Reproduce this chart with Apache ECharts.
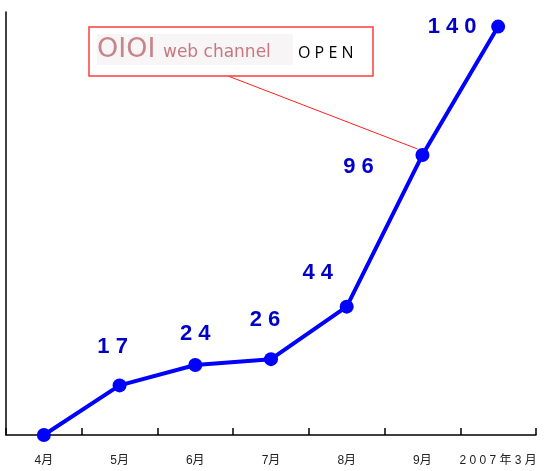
<!DOCTYPE html>
<html>
<head>
<meta charset="utf-8">
<script src="https://cdn.jsdelivr.net/npm/echarts@6/dist/echarts.min.js"></script>
<style>
  html, body { margin: 0; padding: 0; background: #fff; }
  #chart { width: 547px; height: 471px; }
</style>
</head>
<body>
<div id="chart"></div>
<script>
// 月
var months = ['4月', '5月', '6月', '7月', '8月', '9月', '2007年3月'];
// 値
var values = [0, 17, 24, 26, 44, 96, 140];
// ラベル位置のずれ（点からの相対）
var labelShift = [null, [-7, -38], [0, -31], [-6, -39], [-29, -34], [-64, 12], [-46, 0]];

var spaced = function (s) { return String(s).split('').join(' '); };

var chart = echarts.init(document.getElementById('chart'));

var points = [];
for (var i = 0; i < values.length; i++) {
    var p = { value: values[i] };
    if (labelShift[i]) {
        p.label = { show: true, position: 'inside', offset: labelShift[i] };
    }
    points.push(p);
}

var option = {
    animation: false,
    grid: { left: 6, right: 11, top: 12, bottom: 36 },
    xAxis: {
        type: 'category',
        data: months,
        boundaryGap: true,
        axisLine: { lineStyle: { color: '#000', width: 1.5 } },
        axisTick: { show: true, interval: 0, inside: true, length: 7, lineStyle: { color: '#000', width: 1.5 } },
        axisLabel: {
            interval: 0,
            margin: 20,
            color: '#222',
            fontSize: 12,
            fontFamily: "'Liberation Sans', 'Noto Sans CJK SC'",
            formatter: function (v) { return v.length > 3 ? spaced(v) : v; }
        }
    },
    yAxis: {
        type: 'value',
        min: 0,
        max: 145,
        axisLine: { show: true, lineStyle: { color: '#000', width: 1.5 } },
        axisTick: { show: false },
        axisLabel: { show: false },
        splitLine: { show: false }
    },
    series: [{
        type: 'line',
        data: points,
        symbol: 'circle',
        symbolSize: 14,
        lineStyle: { color: '#0000ff', width: 4 },
        itemStyle: { color: '#0000ff' },
        label: {
            show: false,
            color: '#0000c8',
            fontSize: 22,
            fontWeight: 'bold',
            fontFamily: "'Liberation Sans', sans-serif",
            formatter: function (p) { return spaced(p.value); }
        },
        z: 5
    }]
};
chart.setOption(option);

// 吹き出し
var pt = chart.convertToPixel({ seriesIndex: 0 }, [5, values[5]]);
chart.setOption({
    graphic: [
        {
            type: 'line',
            shape: { x1: 228, y1: 76, x2: pt[0] - 5, y2: pt[1] - 6 },
            style: { stroke: '#ff2020', lineWidth: 1 },
            z: 1
        },
        {
            type: 'rect',
            shape: { x: 89, y: 27, width: 284, height: 49 },
            style: { fill: '#fff', stroke: '#ff3c3c', lineWidth: 1.5 },
            z: 10
        },
        {
            type: 'rect',
            shape: { x: 97, y: 34, width: 196, height: 31 },
            style: { fill: '#f7f5f5' },
            z: 11
        },
        {
            type: 'text',
            x: 97, y: 50,
            style: {
                text: 'OIOI', fill: '#c8848c', font: '27px "DejaVu Sans", sans-serif',
                verticalAlign: 'middle', shadowBlur: 3, shadowColor: '#e6b4b8'
            },
            z: 12
        },
        {
            type: 'text',
            x: 163, y: 53,
            style: {
                text: 'web channel', fill: '#c0606e', font: '17px "DejaVu Sans", sans-serif',
                verticalAlign: 'middle', opacity: 0.85
            },
            z: 12
        },
        {
            type: 'text',
            x: 298, y: 53,
            style: {
                text: 'O P E N', fill: '#000', font: '16px "Open Sans", sans-serif',
                verticalAlign: 'middle'
            },
            z: 12
        }
    ]
});
</script>
</body>
</html>
